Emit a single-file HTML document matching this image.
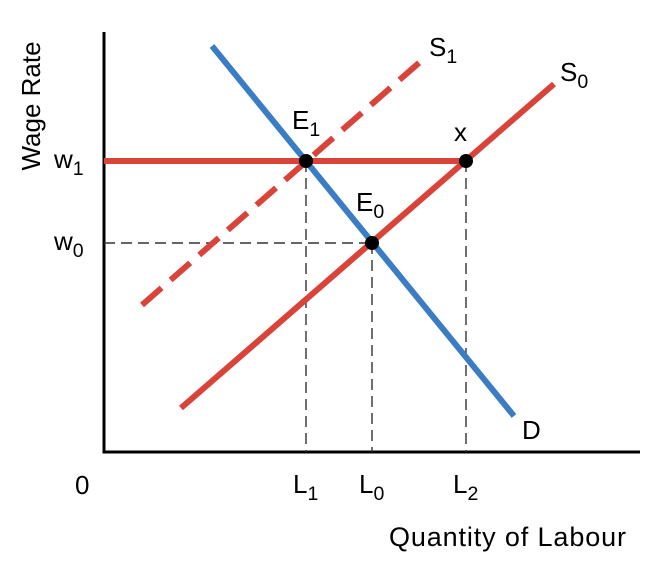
<!DOCTYPE html>
<html>
<head>
<meta charset="utf-8">
<style>
html,body{margin:0;padding:0;background:#fff;}
svg{display:block;font-family:"Liberation Sans",sans-serif;}
</style>
</head>
<body>
<svg id="chart" width="654" height="568" viewBox="0 0 654 568"></svg>
<script>
// Data (quantity units, wage units)
const demandLine = [[108,406],[410,36]];
const supply0Line = [[77,44],[450,368]];
const supply1Line = [[38,147],[316,390]];
const wageLevels = [291,209];            // w1, w0
const wageLabels = ["w", "w"];
const wageSubs = ["1","0"];
const eqPoints = [[202,291],[268,209],[362,291]]; // E1, E0, x
const eqLabels = ["L","L","L"];
const eqSubs = ["1","0","2"];

const X0=104, Y0=452;
const sx = q => X0 + q;
const sy = w => Y0 - w;
const svg = document.getElementById('chart');
const NS = "http://www.w3.org/2000/svg";
function mk(tag, attrs){const e=document.createElementNS(NS,tag);for(const k in attrs)e.setAttribute(k,attrs[k]);svg.appendChild(e);return e;}

// axes
let yAxis = mk('line',{x1:X0,y1:32,x2:X0,y2:Y0,stroke:'#000','stroke-width':3});


let xAxis = mk('line',{x1:X0-1.5,y1:Y0,x2:640,y2:Y0,stroke:'#000','stroke-width':3});



// dashed guides
let g0 = mk('line',{x1:X0,y1:sy(wageLevels[1]),x2:sx(eqPoints[1][0]),y2:sy(wageLevels[1]),stroke:'#333','stroke-width':1.4,'stroke-dasharray':'11,6'});


eqPoints.forEach((p,i)=>{
  const l = mk('line',{x1:sx(p[0]),y1:sy(p[1]),x2:sx(p[0]),y2:Y0,stroke:'#333','stroke-width':1.4,'stroke-dasharray':'11,6'});
  
  
});

// w1 solid line
let w1 = mk('line',{x1:X0,y1:sy(wageLevels[0]),x2:sx(eqPoints[2][0]),y2:sy(wageLevels[0]),stroke:'#d9443a','stroke-width':6});



// supply lines
let s1 = mk('line',{x1:sx(supply1Line[0][0]),y1:sy(supply1Line[0][1]),x2:sx(supply1Line[1][0]),y2:sy(supply1Line[1][1]),stroke:'#d9443a','stroke-width':6,'stroke-dasharray':'26,12'});


let s0 = mk('line',{x1:sx(supply0Line[0][0]),y1:sy(supply0Line[0][1]),x2:sx(supply0Line[1][0]),y2:sy(supply0Line[1][1]),stroke:'#d9443a','stroke-width':6});


// demand
let d = mk('line',{x1:sx(demandLine[0][0]),y1:sy(demandLine[0][1]),x2:sx(demandLine[1][0]),y2:sy(demandLine[1][1]),stroke:'#3b7dc4','stroke-width':6});



// points
eqPoints.forEach((p,i)=>{
  const c = mk('circle',{cx:sx(p[0]),cy:sy(p[1]),r:7,fill:'#000'});
  
  
});

function label(x,y,main,sub,size,name,anchor){
  const t = mk('text',{x:x,y:y,'font-size':size,fill:'#000','text-anchor':anchor||'start'});
  
  
  t.textContent = main;
  if(sub){const s=document.createElementNS(NS,'tspan');s.setAttribute('font-size',size*0.75);s.setAttribute('dy',7);s.textContent=sub;t.appendChild(s);}
  return t;
}
// wage labels
wageLevels.forEach((w,i)=>{label(54,sy(w)+7,wageLabels[i],wageSubs[i],26,'wage-label-'+i);});
// L labels
eqPoints.forEach((p,i)=>{label(sx(p[0])-13,sy(0)+41,eqLabels[i],eqSubs[i],26,'quantity-label-'+i);});
label(75,494,'0','',26,'origin-label');
label(292,129,'E','1',26,'e1-label');
label(356,211,'E','0',26,'e0-label');
label(454,141,'x','',26,'x-point-label');
label(429,56,'S','1',26,'s1-label');
label(560,81,'S','0',26,'s0-label');
label(522,439,'D','',26,'demand-label');
const xt = label(389,546,'Quantity of Labour','',27,'x-axis-title');
xt.setAttribute('textLength','237');
const yt = label(0,0,'Wage Rate','',26,'y-axis-title','middle');
yt.setAttribute('transform','translate(40,106) rotate(-90)');
</script>
</body>
</html>
